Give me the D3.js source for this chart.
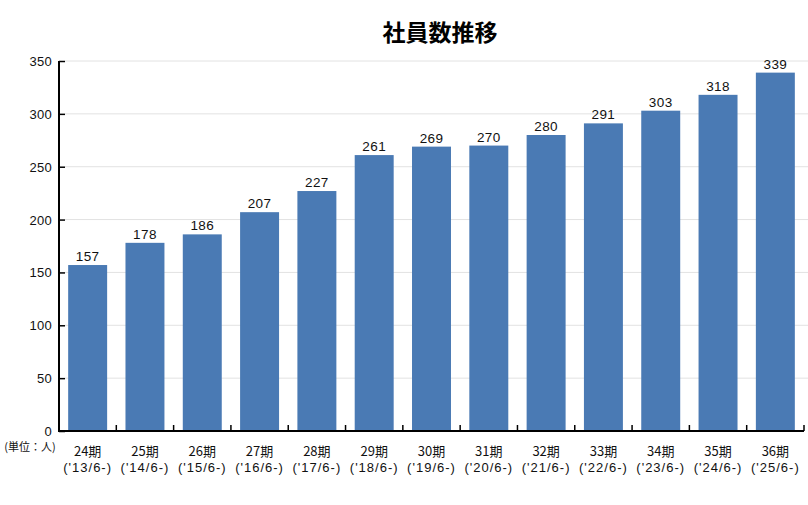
<!DOCTYPE html>
<html><head><meta charset="utf-8">
<script src="https://cdn.jsdelivr.net/npm/d3@7"></script>
<style>body{margin:0;background:#fff;} text{font-family:"Liberation Sans",Arial,sans-serif;}</style>
</head><body><svg id="c" width="808" height="505"></svg>
<script>
const periods = ["24期","25期","26期","27期","28期","29期","30期","31期","32期","33期","34期","35期","36期"];
const dates = ["('13/6-)","('14/6-)","('15/6-)","('16/6-)","('17/6-)","('18/6-)","('19/6-)","('20/6-)","('21/6-)","('22/6-)","('23/6-)","('24/6-)","('25/6-)"];
const employees = [157,178,186,207,227,261,269,270,280,291,303,318,339];
const yTicks = [0,50,100,150,200,250,300,350];
const title = "社員数推移";
const unitLabel = "(単位：人)";

(function(){
const svg = d3.select("#c");
const mL = 59, mR = 804, mT = 61, mB = 431;
const x = d3.scaleBand().domain(periods).range([mL, mR]).paddingInner(0.32).paddingOuter(0.16);
const y = d3.scaleLinear().domain([0,350]).range([mB, mT]);
const cjk = '"Noto Sans CJK JP","Liberation Sans",sans-serif';

// grid
svg.append("g").selectAll("line").data(yTicks.filter(d=>d>0)).join("line")
  .attr("x1", mL+6).attr("x2", 808).attr("y1", d=>y(d)).attr("y2", d=>y(d))
  .attr("stroke", "#e2e2e2").attr("stroke-width", 1);

// bars
svg.append("g").selectAll("rect").data(employees).join("rect")
  .attr("x", (d,i)=>x(periods[i])).attr("width", x.bandwidth())
  .attr("y", d=>y(d)).attr("height", d=>mB - y(d))
  .attr("fill", "#4a7ab4");

// value labels
svg.append("g").selectAll("text").data(employees).join("text")
  .attr("x", (d,i)=>x(periods[i]) + x.bandwidth()/2).attr("y", d=>y(d)-4)
  .attr("text-anchor","middle").attr("font-size", 13.5).attr("letter-spacing", 0.4).attr("fill","#111").text(d=>d);

// y axis
const yAxis = d3.axisRight(y).tickValues(yTicks).tickSize(6).tickFormat("");
const yg = svg.append("g").attr("transform", `translate(${mL},0)`).call(yAxis);
yg.select(".domain").attr("stroke","#000").attr("stroke-width",2).attr("d", `M0,${mT}V${mB}`);
yg.selectAll(".tick line").attr("stroke","#000").attr("stroke-width",1.5);
svg.append("g").selectAll("text").data(yTicks).join("text")
  .attr("x", 52).attr("y", d=>y(d)+5).attr("text-anchor","end")
  .attr("font-size", 13).attr("letter-spacing", 0.3).attr("fill","#111").text(d=>d);

// x axis
const step = x.step();
const start = x(periods[0]) - x.paddingOuter()*step;
const bounds = d3.range(periods.length+1).map(i => start + i*step);
svg.append("line").attr("x1", mL-1).attr("x2", mR).attr("y1", mB).attr("y2", mB)
  .attr("stroke","#000").attr("stroke-width",2);
svg.append("g").selectAll("line").data(bounds.slice(1)).join("line")
  .attr("x1", d=>d).attr("x2", d=>d).attr("y1", mB).attr("y2", mB-6)
  .attr("stroke","#000").attr("stroke-width",1.5);

const xl = svg.append("g");
xl.selectAll("text.p").data(periods).join("text").attr("class","p")
  .attr("x", d=>x(d)+x.bandwidth()/2).attr("y", 456).attr("text-anchor","middle")
  .attr("font-size", 13).attr("fill","#111").style("font-family", cjk).text(d=>d);
xl.selectAll("text.d").data(dates).join("text").attr("class","d")
  .attr("x", (d,i)=>x(periods[i])+x.bandwidth()/2).attr("y", 472).attr("text-anchor","middle")
  .attr("font-size", 13).attr("letter-spacing", 1).attr("fill","#111").text(d=>d);

svg.append("text").attr("x", 30).attr("y", 451).attr("text-anchor","middle")
  .attr("font-size", 11).attr("fill","#111").style("font-family", cjk).text(unitLabel);

svg.append("text").attr("x", 440).attr("y", 41).attr("text-anchor","middle")
  .attr("font-size", 23).attr("font-weight","bold").attr("fill","#000").style("font-family", cjk).text(title);
})();
</script></body></html>
